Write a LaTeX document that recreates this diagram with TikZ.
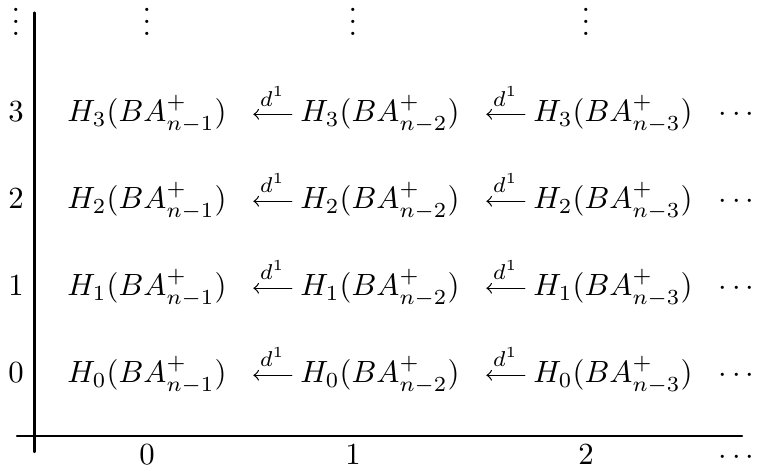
\documentclass[tikz,border=0pt]{standalone}
\usepackage{amsmath}
\begin{document}
\begin{tikzpicture}[line join=round, line cap=round, >=to,
    entry/.style={anchor=base, inner sep=0pt},
    dots/.style={entry, text height=9pt},
    dmap/.style={<-, shorten <=8.5pt, shorten >=2.6pt}]
\useasboundingbox (0,0) rectangle (8.673,5.320);
% axes
\draw[thick] (0.393,5.175) -- (0.393,0.149);
\draw[thick] (0.195,0.332) -- (8.490,0.332);
% vertical dots on top
\foreach \x/\n in {0.183/l, 1.682/a, 4.039/b, 6.705/c}
  \node[dots] (up\n) at (\x,4.908) {$\vdots$};
% rows of the E^1 page
\foreach \q/\y in {3/3.924, 2/2.929, 1/1.934, 0/0.938} {
  \node[entry] (q\q) at (0.183,\y) {$\q$};
  \node[entry] (ea\q) at (1.682,\y) {$H_{\q}(BA^+_{n-1})$};
  \node[entry] (eb\q) at (4.348,\y) {$H_{\q}(BA^+_{n-2})$};
  \node[entry] (ec\q) at (7.014,\y) {$H_{\q}(BA^+_{n-3})$};
  \node[entry] (ed\q) at (8.455,\y) {$\cdots$};
  \draw[dmap] ([yshift=2.5pt]ea\q.base east) -- ([yshift=2.5pt]eb\q.base west)
    node[pos=0.62, above, inner sep=2.5pt] {$\scriptstyle d^1$};
  \draw[dmap] ([yshift=2.5pt]eb\q.base east) -- ([yshift=2.5pt]ec\q.base west)
    node[pos=0.62, above, inner sep=2.5pt] {$\scriptstyle d^1$};
}
% horizontal labels
\foreach \p/\x in {0/1.682, 1/4.039, 2/6.705}
  \node[entry] (p\p) at (\x,0) {$\p$};
\node[entry] (pd) at (8.455,0) {$\cdots$};
\end{tikzpicture}
\end{document}
